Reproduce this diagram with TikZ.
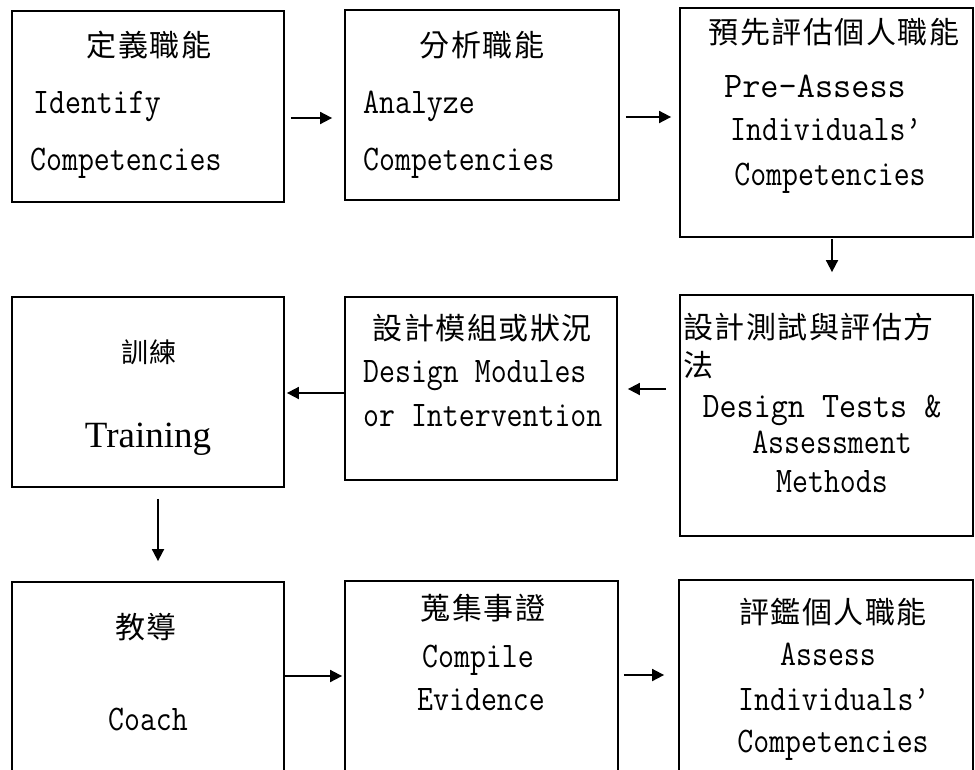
\documentclass[tikz,border=0pt]{standalone}
\usepackage{fontspec}
\setmainfont{Liberation Serif}
\newfontfamily\cjk[LetterSpace=5]{Noto Sans CJK TC}
\newcommand\mtx[1]{\scalebox{0.86}[1]{#1}}
\usetikzlibrary{arrows.meta}
\tikzset{
  box/.style={draw=black, line width=1.8pt, inner sep=0pt},
  arr/.style={line width=1.8pt, -{Triangle[length=12pt,width=12pt]}},
  lat/.style={inner sep=0pt, anchor=base, font=\ttfamily\fontsize{36}{40}\selectfont},
  latw/.style={lat, anchor=base west},
  zh/.style={inner sep=0pt, anchor=center, font=\cjk\fontsize{30}{34}\selectfont},
  zhw/.style={zh, anchor=west},
}
\begin{document}
\begin{tikzpicture}[x=1pt,y=-1pt]
\useasboundingbox (0,0) rectangle (975,769);
\fill[white] (0,0) rectangle (975,769);
\clip (0,0) rectangle (975,769);

% boxes
\node[box, minimum width=272pt, minimum height=191pt] (b1) at (148,106.5) {};
\node[box, minimum width=274pt, minimum height=190pt] (b2) at (482,105) {};
\node[box, minimum width=293pt, minimum height=229pt] (b3) at (826.5,122.5) {};
\node[box, minimum width=293pt, minimum height=241pt] (b4) at (826.5,415.5) {};
\node[box, minimum width=272pt, minimum height=183pt] (b5) at (481,388.5) {};
\node[box, minimum width=272pt, minimum height=190pt] (b6) at (148,392) {};
\node[box, minimum width=272pt, minimum height=218pt] (b7) at (148,691) {};
\node[box, minimum width=273pt, minimum height=219pt] (b8) at (481.5,690.5) {};
\node[box, minimum width=294pt, minimum height=220pt] (b9) at (826,690) {};

% texts box 1
\node[zh] (t1a) at (149,45) {定義職能};
\node[latw] (t1b) at (33,113) {\mtx{Identify}};
\node[latw] (t1c) at (30,170) {\mtx{Competencies}};
% box 2
\node[zh] (t2a) at (482,45) {分析職能};
\node[latw] (t2b) at (363,113) {\mtx{Analyze}};
\node[latw] (t2c) at (363,170) {\mtx{Competencies}};
% box 3
\node[zh] (t3a) at (834,32) {預先評估個人職能};
\node[lat] (t3b) at (815,97) {\scalebox{0.98}[1]{Pre-Assess}};
\node[latw] (t3c) at (730,140) {\mtx{Individuals’}};
\node[lat] (t3d) at (830,185) {\mtx{Competencies}};
% box 4
\node[zhw] (t4a) at (683,327) {設計測試與評估方};
\node[zhw] (t4b) at (683,365) {法};
\node[lat] (t4c) at (822,417) {\scalebox{0.92}[1]{Design Tests \&}};
\node[lat] (t4d) at (832,453) {\mtx{Assessment}};
\node[lat] (t4e) at (832,492) {\mtx{Methods}};
% box 5
\node[zh] (t5a) at (482,328) {設計模組或狀況};
\node[latw] (t5b) at (363,382) {\mtx{Design Modules}};
\node[latw] (t5c) at (363,426) {\mtx{or Intervention}};
% box 6
\node[zh, font=\cjk\fontsize{27}{30}\selectfont] (t6a) at (149,352) {訓練};
\node[inner sep=0pt, anchor=base, font=\fontsize{37}{40}\selectfont] (t6b) at (148,447) {Training};
% box 7
\node[zh] (t7a) at (146,627) {教導};
\node[lat] (t7b) at (148,730) {\mtx{Coach}};
% box 8
\node[zh] (t8a) at (483,608) {蒐集事證};
\node[lat] (t8b) at (478,667) {\mtx{Compile}};
\node[lat] (t8c) at (481,710) {\mtx{Evidence}};
% box 9
\node[zh] (t9a) at (833,612) {評鑑個人職能};
\node[lat] (t9b) at (828,665) {\mtx{Assess}};
\node[latw] (t9c) at (738,710) {\mtx{Individuals’}};
\node[lat] (t9d) at (833,752) {\mtx{Competencies}};

% arrows
\draw[arr] ([xshift=6pt,yshift=-11.5pt]b1.east) -- ([xshift=-12pt,yshift=-13pt]b2.west);
\draw[arr] ([xshift=6pt,yshift=-12pt]b2.east) -- ([xshift=-8pt,yshift=5.5pt]b3.west);
\draw[arr] ([xshift=5.5pt,yshift=-1pt]b3.south) -- ([xshift=5.5pt,yshift=22pt]b4.north);
\draw[arr] ([xshift=-13pt,yshift=26.5pt]b4.west) -- ([xshift=10pt,yshift=-0.5pt]b5.east);
\draw[arr] ([yshift=-4.5pt]b5.west) -- ([xshift=2pt,yshift=-1pt]b6.east);
\draw[arr] ([xshift=10pt,yshift=-11pt]b6.south) -- ([xshift=10pt,yshift=20pt]b7.north);
\draw[arr] ([yshift=15pt]b7.east) -- ([xshift=-2pt,yshift=14.5pt]b8.west);
\draw[arr] ([xshift=5pt,yshift=15.5pt]b8.east) -- ([xshift=-14pt,yshift=15pt]b9.west);
\end{tikzpicture}
\end{document}
